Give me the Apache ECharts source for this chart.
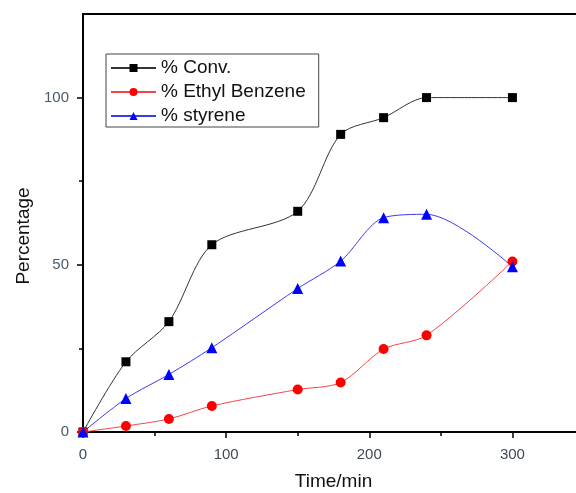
<!DOCTYPE html>
<html>
<head>
<meta charset="utf-8">
<script src="https://cdn.jsdelivr.net/npm/echarts@6/dist/echarts.min.js"></script>
<style>
html,body{margin:0;padding:0;background:#fff;}
#chart{width:576px;height:493px;}
</style>
</head>
<body>
<div id="chart"></div>
<script>
// ---- data ----
const timeMin = [0, 30, 60, 90, 150, 180, 210, 240, 300];
const convPct = [0, 21, 33, 56, 66, 89, 94, 100, 100];
const ethylBenzenePct = [0, 1.8, 3.9, 7.8, 12.7, 14.8, 24.8, 28.9, 51];
const styrenePct = [0, 10, 17.2, 25.2, 42.9, 51.1, 64.1, 65.1, 49.4];
const seriesNames = ['% Conv.', '% Ethyl Benzene', '% styrene'];
const xMajorTicks = [0, 100, 200, 300];
const xMinorTicks = [50, 150, 250];
const yMajorTicks = [0, 50, 100];
const yMinorTicks = [25, 75];

const FONT = 'Liberation Sans, Arial, sans-serif';
const pairs = (ys) => timeMin.map((t, i) => [t, ys[i]]);

const chart = echarts.init(document.getElementById('chart'), null, {renderer: 'canvas'});

const baseX = {type: 'value', min: 0, max: 350, gridIndex: 0};
const baseY = {type: 'value', min: 0, max: 125, gridIndex: 0};

chart.setOption({
  animation: false,
  backgroundColor: '#fff',
  grid: {left: 83, top: 14, right: -8, bottom: 61, show: false, containLabel: false, outerBoundsMode: 'none'},
  legend: {
    orient: 'vertical', left: 106, top: 54,
    padding: [4, 13, 1, 4], itemGap: 4, itemWidth: 45, itemHeight: 10,
    borderColor: '#444', borderWidth: 1,
    textStyle: {fontFamily: FONT, fontSize: 19, color: '#111', lineHeight: 20},
    data: seriesNames
  },
  xAxis: [
    Object.assign({}, baseX, {
      position: 'bottom',
      name: 'Time/min', nameLocation: 'middle', nameGap: 40,
      nameTextStyle: {fontFamily: FONT, fontSize: 19, color: '#111'},
      axisLine: {show: true, onZero: false, lineStyle: {color: '#000', width: 2}},
      axisTick: {show: true, length: 6, lineStyle: {color: '#000', width: 1.5}, customValues: xMajorTicks},
      axisLabel: {show: true, margin: 15, fontFamily: FONT, fontSize: 15, color: '#3f4a55', customValues: xMajorTicks},
      splitLine: {show: false}
    }),
    Object.assign({}, baseX, {
      position: 'bottom',
      axisLine: {show: false, onZero: false},
      axisTick: {show: true, length: 4, lineStyle: {color: '#000', width: 1.5}, customValues: xMinorTicks},
      axisLabel: {show: false},
      splitLine: {show: false}
    }),
    Object.assign({}, baseX, {
      position: 'top',
      axisLine: {show: true, onZero: false, lineStyle: {color: '#000', width: 2}},
      axisTick: {show: false},
      axisLabel: {show: false},
      splitLine: {show: false}
    })
  ],
  yAxis: [
    Object.assign({}, baseY, {
      position: 'left',
      name: 'Percentage', nameLocation: 'middle', nameGap: 49, nameRotate: 90,
      nameTextStyle: {fontFamily: FONT, fontSize: 19, color: '#111', padding: [0, 26, 0, 0]},
      axisLine: {show: true, onZero: false, lineStyle: {color: '#000', width: 2}},
      axisTick: {show: true, length: 6, lineStyle: {color: '#000', width: 1.5}, customValues: yMajorTicks},
      axisLabel: {show: true, margin: 14, fontFamily: FONT, fontSize: 15, color: '#4a5a6a', customValues: yMajorTicks},
      splitLine: {show: false}
    }),
    Object.assign({}, baseY, {
      position: 'left',
      axisLine: {show: false, onZero: false},
      axisTick: {show: true, length: 4, lineStyle: {color: '#000', width: 1.5}, customValues: yMinorTicks},
      axisLabel: {show: false},
      splitLine: {show: false}
    })
  ],
  series: [
    {
      name: seriesNames[0], type: 'line', data: pairs(convPct), smooth: 0.3,
      symbol: 'rect', symbolSize: 9,
      itemStyle: {color: '#000'},
      lineStyle: {color: '#333', width: 1}
    },
    {
      name: seriesNames[1], type: 'line', data: pairs(ethylBenzenePct), smooth: 0.3,
      symbol: 'circle', symbolSize: 10,
      itemStyle: {color: '#ff0000'},
      lineStyle: {color: '#f04848', width: 1}
    },
    {
      name: seriesNames[2], type: 'line', data: pairs(styrenePct), smooth: 0.3,
      symbol: 'triangle', symbolSize: 11,
      itemStyle: {color: '#0000ff'},
      lineStyle: {color: '#3a3af0', width: 1}
    }
  ]
});
</script>
</body>
</html>
